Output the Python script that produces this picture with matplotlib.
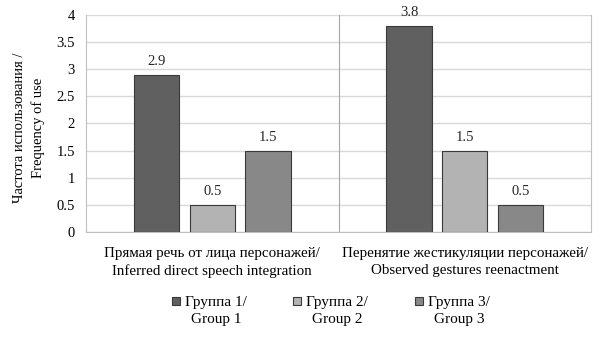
import matplotlib
matplotlib.use("Agg")
import matplotlib.pyplot as plt
import numpy as np
from matplotlib.patches import Rectangle

categories = ["Прямая речь от лица персонажей/\nInferred direct speech integration",
              "Перенятие жестикуляции персонажей/\nObserved gestures reenactment"]
groups = ["Группа 1/\nGroup 1", "Группа 2/\nGroup 2", "Группа 3/\nGroup 3"]
values = {
    "g1": [2.9, 3.8],
    "g2": [0.5, 1.5],
    "g3": [1.5, 0.5],
}
colors = ["#606060", "#b3b3b3", "#888888"]
yticks = [0, 0.5, 1, 1.5, 2, 2.5, 3, 3.5, 4]

plt.rcParams['font.family'] = ['Liberation Serif', 'DejaVu Serif']
W, H = 607, 342
fig = plt.figure(figsize=(W/100, H/100), dpi=100)
ax = fig.add_axes([86/W, 1-232/H, (591-86)/W, (232-15)/H])

x = np.arange(len(categories))
width = 0.18
step = 0.221
for i, (key, col) in enumerate(zip(["g1", "g2", "g3"], colors)):
    pos = x + (i - 1) * step
    bars = ax.bar(pos, values[key], width, color=col, edgecolor="#3a3a3a", linewidth=0.8, zorder=3)
    for b, v in zip(bars, values[key]):
        ax.text(b.get_x() + b.get_width()/2, v + 0.12, f"{v:g}", ha="center", va="bottom",
                fontsize=10.5, color="#262626")

ax.set_xlim(-0.5, 1.5)
ax.set_ylim(0, 4)
ax.set_yticks(yticks)
ax.set_yticklabels([f"{t:g}" for t in yticks], fontsize=10.5)
ax.yaxis.grid(True, color="#d9d9d9", linewidth=1, zorder=0)
ax.set_axisbelow(True)
ax.tick_params(axis='y', length=0, pad=8)
ax.tick_params(axis='x', length=0, pad=11)
ax.set_xticks(x)
ax.set_xticklabels(categories, fontsize=10.8, linespacing=1.35)
ax.axvline(0.5, color="#a6a6a6", linewidth=0.8, zorder=1)
ax.spines["top"].set_visible(False)
for s in ["left", "right", "bottom"]:
    ax.spines[s].set_color("#bfbfbf")
    ax.spines[s].set_linewidth(0.8)

fig.text(29/W, 1-128/H, "Частота использования /\nFrequency of use", rotation=90,
         ha="center", va="center", fontsize=10.5, linespacing=1.4, multialignment="center")

# legend (manual, to match marker alignment with first line)
leg_x = [172, 293, 415]
for gx, col, lab in zip(leg_x, colors, groups):
    fig.add_artist(Rectangle((gx/W, 1-305/H), 8/W, 8/H, transform=fig.transFigure,
                             facecolor=col, edgecolor="#3a3a3a", linewidth=0.8))
    fig.text((gx + 44)/W, 1-311/H, lab, ha="center", va="center", fontsize=11,
             linespacing=1.35, multialignment="center")

fig.savefig("out.png", dpi=100)
